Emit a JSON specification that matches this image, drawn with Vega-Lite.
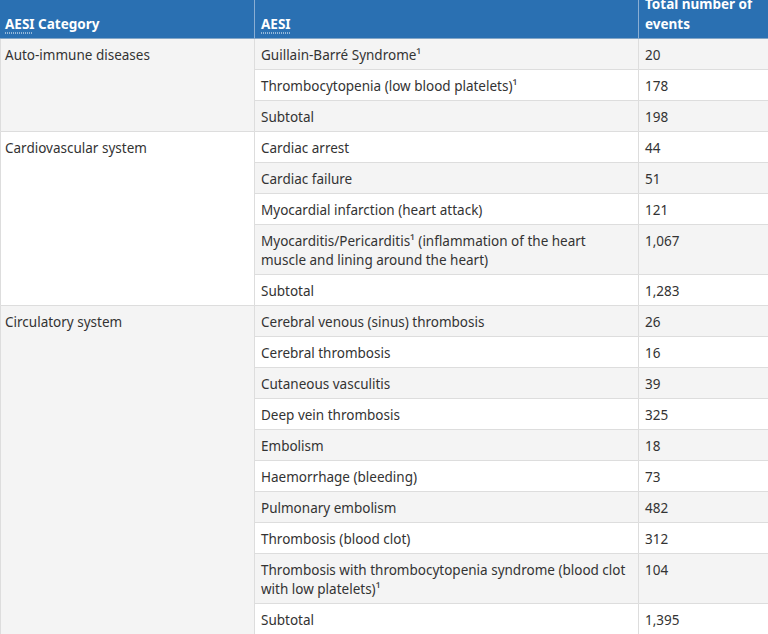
{
  "$schema": "https://vega.github.io/schema/vega-lite/v6.json",
  "width": 768,
  "height": 634,
  "autosize": {"type": "none"},
  "padding": 0,
  "background": "#ffffff",
  "config": {"view": {"stroke": null}, "text": {"font": "Noto Sans", "fontSize": 13.5}},
  "layer": [
    {
      "data": {"values": [
        {"cat": "Auto-immune diseases", "aesi": "Guillain-Barré Syndrome¹", "total": 20},
        {"cat": "Auto-immune diseases", "aesi": "Thrombocytopenia (low blood platelets)¹", "total": 178},
        {"cat": "Auto-immune diseases", "aesi": "Subtotal", "total": 198},
        {"cat": "Cardiovascular system", "aesi": "Cardiac arrest", "total": 44},
        {"cat": "Cardiovascular system", "aesi": "Cardiac failure", "total": 51},
        {"cat": "Cardiovascular system", "aesi": "Myocardial infarction (heart attack)", "total": 121},
        {"cat": "Cardiovascular system", "aesi": ["Myocarditis/Pericarditis¹ (inflammation of the heart", "muscle and lining around the heart)"], "total": 1067},
        {"cat": "Cardiovascular system", "aesi": "Subtotal", "total": 1283},
        {"cat": "Circulatory system", "aesi": "Cerebral venous (sinus) thrombosis", "total": 26},
        {"cat": "Circulatory system", "aesi": "Cerebral thrombosis", "total": 16},
        {"cat": "Circulatory system", "aesi": "Cutaneous vasculitis", "total": 39},
        {"cat": "Circulatory system", "aesi": "Deep vein thrombosis", "total": 325},
        {"cat": "Circulatory system", "aesi": "Embolism", "total": 18},
        {"cat": "Circulatory system", "aesi": "Haemorrhage (bleeding)", "total": 73},
        {"cat": "Circulatory system", "aesi": "Pulmonary embolism", "total": 482},
        {"cat": "Circulatory system", "aesi": "Thrombosis (blood clot)", "total": 312},
        {"cat": "Circulatory system", "aesi": ["Thrombosis with thrombocytopenia syndrome (blood clot", "with low platelets)¹"], "total": 104},
        {"cat": "Circulatory system", "aesi": "Subtotal", "total": 1395}
      ]},
      "transform": [
        {"window": [{"op": "row_number", "as": "idx"}]},
        {"calculate": "isArray(datum.aesi) ? length(datum.aesi) : 1", "as": "lines"},
        {"calculate": "12 + 19 * datum.lines", "as": "h"},
        {"window": [{"op": "sum", "field": "h", "as": "y1"}], "sort": [{"field": "idx"}], "frame": [null, 0]},
        {"calculate": "datum.y1 - datum.h", "as": "y0"},
        {"joinaggregate": [
          {"op": "min", "field": "y0", "as": "gy0"},
          {"op": "max", "field": "y1", "as": "gy1"},
          {"op": "min", "field": "idx", "as": "gidx"}
        ], "groupby": ["cat"]}
      ],
      "layer": [
        {
          "mark": {"type": "rect", "stroke": "#dddddd", "strokeWidth": 1},
          "encoding": {
            "x": {"datum": 254, "type": "quantitative", "scale": {"domain": [-0.5, 767.5], "nice": false, "zero": false}, "axis": null},
            "x2": {"datum": 638},
            "y": {"field": "y0", "type": "quantitative", "scale": {"domain": [-38.5, 595.5], "reverse": true, "nice": false, "zero": false}, "axis": null},
            "y2": {"field": "y1"},
            "color": {"condition": {"test": "datum.idx % 2 == 1", "value": "#f4f4f4"}, "value": "#ffffff"}
          }
        },
        {
          "mark": {"type": "rect", "stroke": "#dddddd", "strokeWidth": 1},
          "encoding": {
            "x": {"datum": 638, "type": "quantitative"},
            "x2": {"datum": 768},
            "y": {"field": "y0", "type": "quantitative"},
            "y2": {"field": "y1"},
            "color": {"condition": {"test": "datum.idx % 2 == 1", "value": "#f4f4f4"}, "value": "#ffffff"}
          }
        },
        {
          "transform": [{"filter": "datum.idx == datum.gidx"}],
          "mark": {"type": "rect", "stroke": "#dddddd", "strokeWidth": 1},
          "encoding": {
            "x": {"datum": 0, "type": "quantitative"},
            "x2": {"datum": 254},
            "y": {"field": "gy0", "type": "quantitative"},
            "y2": {"field": "gy1"},
            "color": {"condition": {"test": "datum.gidx % 2 == 1", "value": "#f4f4f4"}, "value": "#ffffff"}
          }
        },
        {
          "transform": [{"filter": "datum.idx == datum.gidx"}],
          "mark": {"type": "text", "align": "left", "baseline": "alphabetic", "dy": 21.5, "color": "#333333"},
          "encoding": {
            "x": {"datum": 4.5, "type": "quantitative"},
            "y": {"field": "gy0", "type": "quantitative"},
            "text": {"field": "cat", "type": "nominal"}
          }
        },
        {
          "mark": {"type": "text", "align": "left", "baseline": "alphabetic", "dy": 21.5, "lineHeight": 19, "color": "#333333"},
          "encoding": {
            "x": {"datum": 260.5, "type": "quantitative"},
            "y": {"field": "y0", "type": "quantitative"},
            "text": {"field": "aesi", "type": "nominal"}
          }
        },
        {
          "mark": {"type": "text", "align": "left", "baseline": "alphabetic", "dy": 21.5, "color": "#333333"},
          "encoding": {
            "x": {"datum": 644.5, "type": "quantitative"},
            "y": {"field": "y0", "type": "quantitative"},
            "text": {"field": "total", "type": "quantitative", "format": ",d"}
          }
        }
      ]
    },
    {
      "data": {"values": [{}]},
      "mark": {"type": "rect", "color": "#2a70b2"},
      "encoding": {
        "x": {"datum": -0.5, "type": "quantitative"},
        "x2": {"datum": 767.5},
        "y": {"datum": -38.5, "type": "quantitative"},
        "y2": {"datum": 0}
      }
    },
    {
      "data": {"values": [{}]},
      "mark": {"type": "rule", "color": "#8aaed3", "strokeWidth": 1},
      "encoding": {
        "x": {"datum": 254, "type": "quantitative"},
        "y": {"datum": -38.5, "type": "quantitative"},
        "y2": {"datum": 0}
      }
    },
    {
      "data": {"values": [{}]},
      "mark": {"type": "rule", "color": "#8aaed3", "strokeWidth": 1},
      "encoding": {
        "x": {"datum": 638, "type": "quantitative"},
        "y": {"datum": -38.5, "type": "quantitative"},
        "y2": {"datum": 0}
      }
    },
    {
      "data": {"values": [{"label": "AESI Category"}]},
      "mark": {"type": "text", "align": "left", "baseline": "alphabetic", "color": "#ffffff", "fontWeight": "bold"},
      "encoding": {
        "x": {"datum": 4.5, "type": "quantitative"},
        "y": {"datum": -9.5, "type": "quantitative"},
        "text": {"field": "label", "type": "nominal"}
      }
    },
    {
      "data": {"values": [{"label": "AESI"}]},
      "mark": {"type": "text", "align": "left", "baseline": "alphabetic", "color": "#ffffff", "fontWeight": "bold"},
      "encoding": {
        "x": {"datum": 260.5, "type": "quantitative"},
        "y": {"datum": -9.5, "type": "quantitative"},
        "text": {"field": "label", "type": "nominal"}
      }
    },
    {
      "data": {"values": [{"label": ["Total number of", "events"]}]},
      "mark": {"type": "text", "align": "left", "baseline": "alphabetic", "color": "#ffffff", "fontWeight": "bold", "lineHeight": 20},
      "encoding": {
        "x": {"datum": 644.5, "type": "quantitative"},
        "y": {"datum": -30, "type": "quantitative"},
        "text": {"field": "label", "type": "nominal"}
      }
    },
    {
      "data": {"values": [{}]},
      "mark": {"type": "rule", "color": "#ffffff", "strokeWidth": 1, "strokeDash": [1, 1]},
      "encoding": {
        "x": {"datum": 4.5, "type": "quantitative"},
        "x2": {"datum": 32.5},
        "y": {"datum": -5.5, "type": "quantitative"}
      }
    },
    {
      "data": {"values": [{}]},
      "mark": {"type": "rule", "color": "#ffffff", "strokeWidth": 1, "strokeDash": [1, 1]},
      "encoding": {
        "x": {"datum": 260.5, "type": "quantitative"},
        "x2": {"datum": 289.5},
        "y": {"datum": -5.5, "type": "quantitative"}
      }
    }
  ]
}
